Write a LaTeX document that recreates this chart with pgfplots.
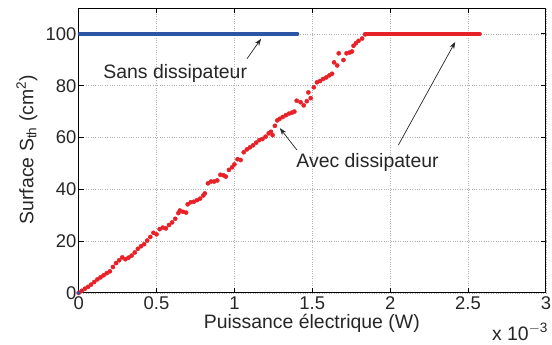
\documentclass[border=0pt]{standalone}
\usepackage{fontspec}
\setmainfont{Liberation Sans}
\usepackage{pgfplots}
\pgfplotsset{compat=1.18}
\usetikzlibrary{arrows.meta}
\definecolor{myred}{RGB}{232,32,40}
\definecolor{myblue}{RGB}{45,85,165}
\begin{document}%
\begin{tikzpicture}[font=\fontsize{19.5bp}{22bp}\selectfont]%
\begin{axis}[
  scale only axis, width=469bp, height=286bp,
  xmin=0, xmax=3, ymin=0, ymax=110,
  xtick={0,0.5,1,1.5,2,2.5,3},
  xticklabels={0,0.5,1,1.5,2,2.5,3},
  ytick={0,20,40,60,80,100},
  xtick pos=both, ytick pos=both,
  tick align=inside,
  major tick length=5bp,
  grid=major,
  major grid style={dotted, gray!60, line width=0.7bp},
  axis line style={line width=0.9bp},
  tick style={line width=0.8bp, black},
  /pgf/number format/assume math mode=true,
  ticklabel style={font=\fontsize{18.5bp}{20bp}\selectfont, text=black!85, inner sep=1bp},
  yticklabel style={xshift=-1bp},
  xticklabel style={yshift=-3bp},
  xlabel={Puissance électrique (W)},
  ylabel={Surface S\textsubscript{th} (cm\textsuperscript{2})},
  label style={font=\fontsize{19.5bp}{22bp}\selectfont, text=black!85, inner sep=0pt},
  xlabel style={at={(axis description cs:0.499,-0.106)}, anchor=center},
  ylabel style={at={(axis description cs:-0.111,0.503)}, anchor=center},
  clip=false,
]
% Avec dissipateur (rising part)
\addplot[only marks, mark=*, mark size=2.1bp, color=myred] coordinates {
(0,0) (0.02,0.8) (0.04,1.6) (0.06,2.3) (0.08,3.2) (0.10,4.2) (0.12,5.2) (0.14,6.0)
(0.16,6.8) (0.18,7.6) (0.20,8.3) (0.22,10.0) (0.24,11.5) (0.26,12.6) (0.28,13.7)
(0.30,13.0) (0.32,13.6) (0.34,14.4) (0.36,15.6) (0.38,17.0) (0.40,18.0) (0.42,18.8)
(0.44,20.2) (0.46,21.6) (0.48,23.2) (0.50,22.6) (0.52,24.6) (0.54,25.2) (0.56,24.9)
(0.58,26.2) (0.60,27.2) (0.62,28.6) (0.64,30.8) (0.65,31.8) (0.67,31.3) (0.69,31.0)
(0.70,34.2) (0.72,35.0) (0.74,35.2) (0.76,35.8) (0.78,36.4) (0.80,37.6) (0.81,38.4)
(0.83,42.3) (0.85,43.0) (0.87,43.0) (0.89,43.4) (0.91,45.6) (0.93,45.4) (0.945,44.9)
(0.965,47.5) (0.985,48.5) (1.00,49.6) (1.02,51.6) (1.04,51.3) (1.06,54.3) (1.08,55.4)
(1.10,56.2) (1.12,57.0) (1.14,58.0) (1.16,59.0) (1.18,59.4) (1.20,60.3) (1.22,61.6)
(1.235,62.2) (1.245,60.9) (1.26,64.5) (1.275,66.6) (1.29,67.2) (1.31,67.9) (1.33,68.6)
(1.35,69.2) (1.37,69.6) (1.385,70.0) (1.40,74.2) (1.425,73.6) (1.445,72.4) (1.465,74.0)
(1.475,77.4) (1.49,75.2) (1.51,79.4) (1.53,81.3) (1.55,81.8) (1.57,82.6) (1.59,83.2)
(1.61,84.0) (1.627,84.6) (1.64,89.0) (1.66,87.8) (1.67,92.5) (1.70,89.9) (1.72,92.5)
(1.74,92.8) (1.755,93.2) (1.765,95.4) (1.78,96.4) (1.797,97.3) (1.82,98.2) (1.84,99.8)
};
% Avec dissipateur (saturated part)
\addplot[color=myred, line width=4bp, line cap=round] coordinates {(1.84,100) (2.576,100)};
% Sans dissipateur
\addplot[color=myblue, line width=3.6bp, line cap=round] coordinates {(0.005,100) (1.405,100)};
\addplot[only marks, mark=*, mark size=1.6bp, color=myblue] coordinates {(0,0)};

\node[text=black!85, inner sep=0pt] at (axis cs:0.62,84.7) {Sans dissipateur};
\draw[-{Stealth[length=7bp,width=5bp]}, line width=0.7bp, black!85] (axis cs:1.081,90.4) -- (axis cs:1.171,98.1);
\node[text=black!85, inner sep=0pt] at (axis cs:1.855,50.2) {Avec dissipateur};
\draw[-{Stealth[length=7bp,width=5bp]}, line width=0.7bp, black!85] (axis cs:1.401,55.2) -- (axis cs:1.292,63.6);
\draw[-{Stealth[length=7bp,width=5bp]}, line width=0.7bp, black!85] (axis cs:2.053,57.1) -- (axis cs:2.418,96.9);
\node[text=black!85, anchor=center, inner sep=0pt] at (axis description cs:0.9446,-0.136) {x 10\textsuperscript{$-$3}};
\coordinate (bl) at (rel axis cs:-0.1684,-0.1818);
\coordinate (tr) at (rel axis cs:1.0085,1.028);
\end{axis}
\path (bl) rectangle (tr);
\end{tikzpicture}%
\end{document}
